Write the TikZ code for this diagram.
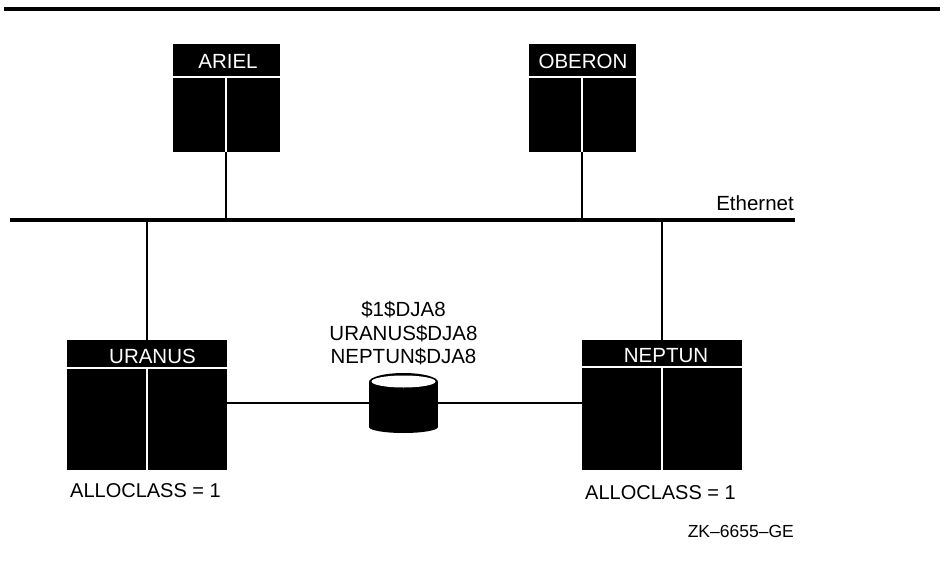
\documentclass[tikz,border=0pt]{standalone}
\usepackage{fontspec}
\setmainfont{Liberation Sans}
\usepackage{tikz}
\usetikzlibrary{positioning,calc}
\tikzset{
  hostbox/.style={draw=none, rectangle, fill=black, minimum width=160pt, minimum height=130pt, inner sep=0pt},
  smallbox/.style={hostbox, minimum width=107pt, minimum height=108pt},
  wht/.style={draw=white, line width=1.4pt},
  lnk/.style={line width=2pt},
  rule/.style={draw=none, rectangle, fill=black, inner sep=0pt},
  ttl/.style={text=white, font=\fontsize{20.5}{22}\selectfont, inner sep=0pt},
  lbl/.style={font=\fontsize{20.5}{23.5}\selectfont, inner sep=0pt, align=center},
  drv/.style={draw=none, rectangle, minimum width=69pt, minimum height=60pt, inner sep=0pt},
}
\begin{document}
\begin{tikzpicture}[x=1pt,y=-1pt]
\useasboundingbox (0,0) rectangle (944,588);
\node[rule, minimum width=936pt, minimum height=3.5pt] (top) at (472,9) {};
\node[rule, minimum width=785pt, minimum height=4pt] (bus) at (402.5,220) {};
\node[smallbox] (ariel) at (226,98) {};
\node[smallbox] (oberon) at (582,98) {};
\node[hostbox] (uranus) at (147,405) {};
\node[hostbox] (neptun) at (662,405) {};
\node[drv] (disk) at (403.5,403) {};
% disk drawn over its node
\fill (disk.west |- 0,382) rectangle (disk.east |- 0,427);
\fill (disk.center |- 0,382) ellipse [x radius=34.5, y radius=9];
\fill (disk.center |- 0,427) ellipse [x radius=34.5, y radius=6];
\fill[white] (disk.center |- 0,381.5) ellipse [x radius=32, y radius=6];
% titles
\node[ttl] (arielt) at (228,61) {ARIEL};
\node[ttl] (oberont) at (583,61) {OBERON};
\node[ttl] (uranust) at (152.5,356.5) {URANUS};
\node[ttl] (neptunt) at (666,356) {NEPTUN};
% dividers
\draw[wht] (ariel.west |- 0,77) -- (ariel.east |- 0,77);
\draw[wht] (ariel.south) -- (ariel.center |- 0,77);
\draw[wht] (oberon.west |- 0,77) -- (oberon.east |- 0,77);
\draw[wht] (oberon.south) -- (oberon.center |- 0,77);
\draw[wht] (uranus.west |- 0,368) -- (uranus.east |- 0,368);
\draw[wht] (uranus.south) -- (uranus.center |- 0,368);
\draw[wht] (neptun.west |- 0,367) -- (neptun.east |- 0,367);
\draw[wht] (neptun.south) -- (neptun.center |- 0,367);
% links
\draw[lnk] (ariel.south) -- (ariel.south |- bus.north);
\draw[lnk] (oberon.south) -- (oberon.south |- bus.north);
\draw[lnk] (uranus.north) -- (uranus.north |- bus.south);
\draw[lnk] (neptun.north) -- (neptun.north |- bus.south);
\draw[lnk] (uranus.east |- disk.center) -- (disk.west);
\draw[lnk] (neptun.west |- disk.center) -- (disk.east);
% labels
\node[lbl, anchor=east] (eth) at (794,203) {Ethernet};
\node[lbl] (names) at (403.5,333.5) {\$1\$DJA8\\URANUS\$DJA8\\NEPTUN\$DJA8};
\node[lbl, anchor=west, font=\fontsize{20}{24}\selectfont] (allocl) at (70,491) {ALLOCLASS = 1};
\node[lbl, anchor=west, font=\fontsize{20}{24}\selectfont] (allocr) at (585,492.5) {ALLOCLASS = 1};
\node[lbl, anchor=east, font=\fontsize{17.5}{20}\selectfont] (zk) at (794,531) {ZK--6655--GE};
\end{tikzpicture}
\end{document}
